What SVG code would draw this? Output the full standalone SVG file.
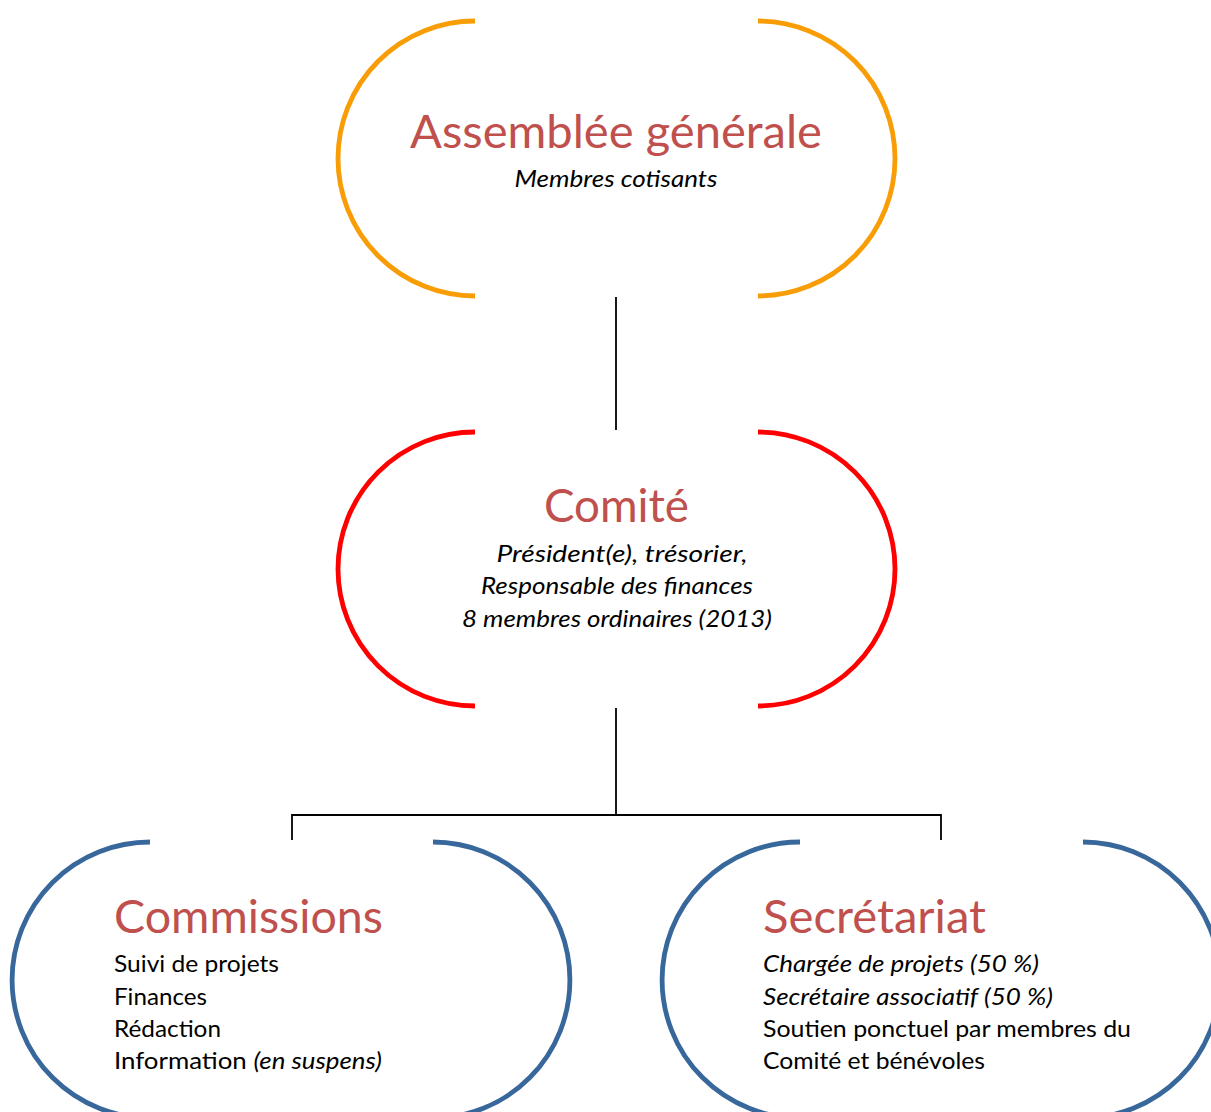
<svg xmlns="http://www.w3.org/2000/svg" width="1211" height="1112" viewBox="0 0 1211 1112">
  <style>
    .arc { fill: none; stroke-width: 4.8; }
    .orange { stroke: #F99D07; }
    .red { stroke: #FF0000; }
    .blue { stroke: #38679C; }
    .link { fill: none; stroke: #000; stroke-width: 1.8; }
    .title { font-family: Lato, "Open Sans", "Liberation Sans", sans-serif; font-size: 47px; fill: #C0504D; }
    .body { font-family: Lato, "Open Sans", "Liberation Sans", sans-serif; font-size: 23px; fill: #000; }
    .it { font-style: italic; }
    .mid { text-anchor: middle; }
  </style>
  <rect width="1211" height="1112" fill="#fff"/>

  <!-- connectors -->
  <g id="connectors">
    <line class="link" x1="616" y1="297" x2="616" y2="430"/>
    <line class="link" x1="616" y1="708" x2="616" y2="815"/>
    <polyline class="link" points="292,840 292,815 941,815 941,840"/>
  </g>

  <!-- Assemblée générale -->
  <g id="assemblee">
    <path class="arc orange" d="M475,21 A137,137.5 0 0 0 475,296"/>
    <path class="arc orange" d="M758,21 A137,137.5 0 0 1 758,296"/>
    <text class="title mid" x="616" y="148" textLength="412" lengthAdjust="spacingAndGlyphs">Assemblée générale</text>
    <text class="body it mid" x="616" y="187" textLength="203" lengthAdjust="spacingAndGlyphs">Membres cotisants</text>
  </g>

  <!-- Comité -->
  <g id="comite">
    <path class="arc red" d="M475,432 A137,137 0 0 0 475,706"/>
    <path class="arc red" d="M758,432 A137,137 0 0 1 758,706"/>
    <text class="title mid" x="616.5" y="522" textLength="145" lengthAdjust="spacingAndGlyphs">Comité</text>
    <text class="body it mid" x="622" y="562" textLength="251" lengthAdjust="spacingAndGlyphs">Président(e), trésorier,</text>
    <text class="body it mid" x="617" y="594" textLength="272" lengthAdjust="spacingAndGlyphs">Responsable des finances</text>
    <text class="body it mid" x="617" y="627" textLength="310" lengthAdjust="spacingAndGlyphs">8 membres ordinaires (2013)</text>
  </g>

  <!-- Commissions -->
  <g id="commissions">
    <path class="arc blue" d="M150,842 A138,138 0 0 0 150,1118"/>
    <path class="arc blue" d="M433,842 A137,138 0 0 1 433,1118"/>
    <text class="title" x="114" y="933" textLength="269" lengthAdjust="spacingAndGlyphs">Commissions</text>
    <text class="body" x="114" y="972" textLength="165" lengthAdjust="spacingAndGlyphs">Suivi de projets</text>
    <text class="body" x="114" y="1005" textLength="93" lengthAdjust="spacingAndGlyphs">Finances</text>
    <text class="body" x="114" y="1037" textLength="107" lengthAdjust="spacingAndGlyphs">Rédaction</text>
    <text class="body" x="114" y="1069" textLength="268" lengthAdjust="spacingAndGlyphs">Information <tspan class="it">(en suspens)</tspan></text>
  </g>

  <!-- Secrétariat -->
  <g id="secretariat">
    <path class="arc blue" d="M800,842 A138,138 0 0 0 800,1118"/>
    <path class="arc blue" d="M1083,842 A137,138 0 0 1 1083,1118"/>
    <text class="title" x="763" y="933" textLength="223" lengthAdjust="spacingAndGlyphs">Secrétariat</text>
    <text class="body it" x="763" y="972" textLength="276" lengthAdjust="spacingAndGlyphs">Chargée de projets (50 %)</text>
    <text class="body it" x="763" y="1005" textLength="290" lengthAdjust="spacingAndGlyphs">Secrétaire associatif (50 %)</text>
    <text class="body" x="763" y="1037" textLength="368" lengthAdjust="spacingAndGlyphs">Soutien ponctuel par membres du</text>
    <text class="body" x="763" y="1069" textLength="222" lengthAdjust="spacingAndGlyphs">Comité et bénévoles</text>
  </g>
</svg>
